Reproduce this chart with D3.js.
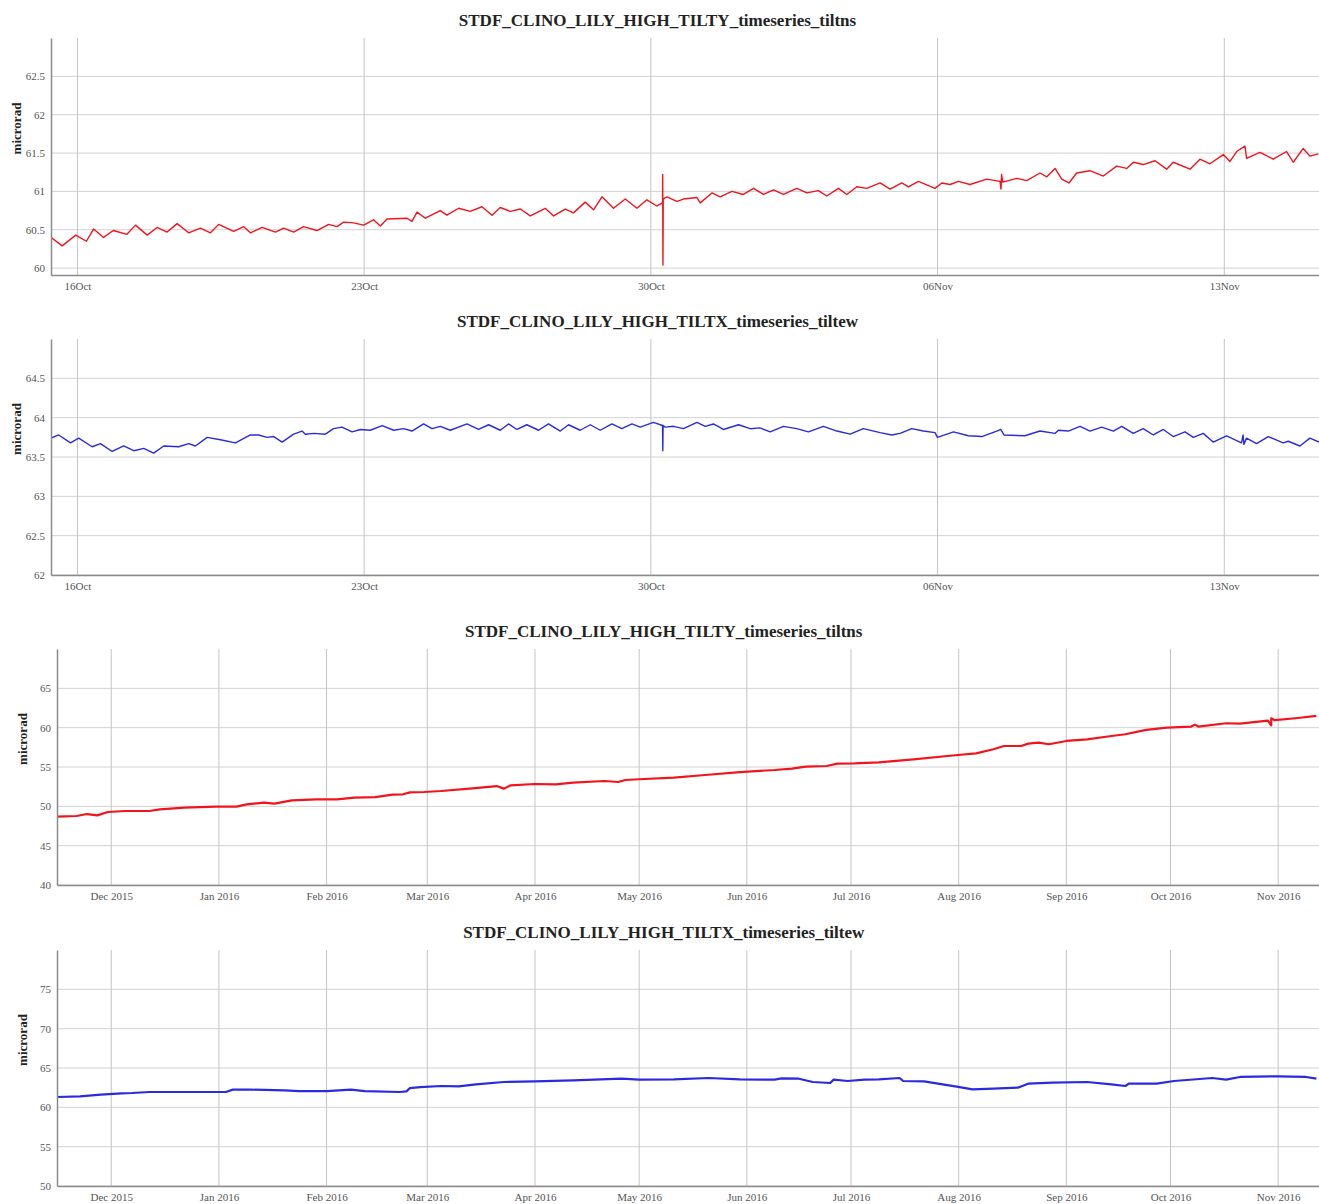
<!DOCTYPE html>
<html lang="en">
<head>
<meta charset="utf-8">
<title>STDF_CLINO_LILY_HIGH tilt timeseries</title>
<script src="https://d3js.org/d3.v7.min.js"></script>
<style>
  body { margin: 0; background: #fff; }
  svg { display: block; font-family: "Liberation Serif", "Times New Roman", serif; }
  .grid line { stroke: #d2d2d2; stroke-width: 1; }
  .grid.v line { stroke: #c4c4c4; }
  .tick text { fill: #555; font-size: 11px; }
  .domain { stroke: #8a8a8a; stroke-width: 1.5; }
  .title { font-size: 17px; font-weight: bold; fill: #222; }
  .ylab { font-size: 13px; font-weight: bold; fill: #222; }
</style>
</head>
<body>
<svg id="chart" width="1319" height="1204"></svg>
<script>
// ---- one month, north-south tilt (red) ----
let tiltnsMonthT = [
  "2016-10-15 08:30","2016-10-15 15:00","2016-10-15 23:00","2016-10-16 05:15","2016-10-16 09:30",
  "2016-10-16 15:15","2016-10-16 21:00","2016-10-17 05:00","2016-10-17 10:00","2016-10-17 16:50",
  "2016-10-17 22:40","2016-10-18 04:30","2016-10-18 10:25","2016-10-18 17:10","2016-10-19 00:00",
  "2016-10-19 05:55","2016-10-19 10:45","2016-10-19 19:30","2016-10-20 01:25","2016-10-20 05:20",
  "2016-10-20 12:10","2016-10-20 20:00","2016-10-21 00:50","2016-10-21 06:40","2016-10-21 12:30",
  "2016-10-21 20:20","2016-10-22 03:10","2016-10-22 08:05","2016-10-22 12:00","2016-10-22 17:50",
  "2016-10-22 23:40","2016-10-23 05:30","2016-10-23 09:30","2016-10-23 13:25","2016-10-24 01:05",
  "2016-10-24 04:00","2016-10-24 07:00","2016-10-24 11:50","2016-10-24 20:35","2016-10-25 00:30",
  "2016-10-25 07:20","2016-10-25 14:10","2016-10-25 21:00","2016-10-26 02:55","2016-10-26 07:45",
  "2016-10-26 13:35","2016-10-26 19:30","2016-10-27 01:20","2016-10-27 10:05","2016-10-27 15:00",
  "2016-10-27 21:50","2016-10-28 02:40","2016-10-28 09:30","2016-10-28 14:25","2016-10-28 19:20",
  "2016-10-29 02:05","2016-10-29 09:00","2016-10-29 15:50","2016-10-29 21:40","2016-10-30 03:30",
  "2016-10-30 06:50","2016-10-30 06:55","2016-10-30 07:05","2016-10-30 07:15","2016-10-30 09:25",
  "2016-10-30 15:15","2016-10-30 19:05","2016-10-31 03:00","2016-10-31 04:55","2016-10-31 11:45",
  "2016-10-31 16:35","2016-10-31 23:30","2016-11-01 06:15","2016-11-01 12:10","2016-11-01 18:00",
  "2016-11-01 23:50","2016-11-02 05:40","2016-11-02 13:30","2016-11-02 19:25","2016-11-03 02:10",
  "2016-11-03 07:05","2016-11-03 13:55","2016-11-03 18:50","2016-11-04 00:40","2016-11-04 06:30",
  "2016-11-04 14:20","2016-11-04 20:10","2016-11-05 03:00","2016-11-05 06:55","2016-11-05 12:45",
  "2016-11-05 22:30","2016-11-06 02:30","2016-11-06 07:20","2016-11-06 12:10","2016-11-06 19:00",
  "2016-11-07 04:50","2016-11-07 12:35","2016-11-07 13:10","2016-11-07 13:30","2016-11-07 14:10",
  "2016-11-07 22:25",
  "2016-11-08 04:15","2016-11-08 12:00","2016-11-08 16:00","2016-11-08 20:50","2016-11-09 00:45",
  "2016-11-09 05:00","2016-11-09 09:30","2016-11-09 17:20","2016-11-10 01:05","2016-11-10 08:55",
  "2016-11-10 14:50","2016-11-10 18:40","2016-11-11 00:30","2016-11-11 07:25","2016-11-11 14:15",
  "2016-11-11 18:05","2016-11-12 03:55","2016-11-12 09:45","2016-11-12 15:35","2016-11-12 23:25",
  "2016-11-13 03:20","2016-11-13 07:15","2016-11-13 12:05","2016-11-13 13:05","2016-11-13 20:55",
  "2016-11-14 04:40","2016-11-14 12:30","2016-11-14 16:25","2016-11-14 22:15","2016-11-15 02:10",
  "2016-11-15 07:05"
];
let tiltnsMonthV = [
  60.40, 60.29, 60.43, 60.35, 60.51, 60.40, 60.49, 60.44, 60.56, 60.43,
  60.53, 60.47, 60.58, 60.46, 60.52, 60.46, 60.57, 60.48, 60.54, 60.46,
  60.53, 60.47, 60.52, 60.47, 60.54, 60.49, 60.57, 60.54, 60.60, 60.59,
  60.56, 60.63, 60.55, 60.64, 60.65, 60.61, 60.73, 60.65, 60.75, 60.69,
  60.78, 60.74, 60.80, 60.69, 60.79, 60.74, 60.77, 60.68, 60.78, 60.68,
  60.77, 60.72, 60.86, 60.76, 60.93, 60.78, 60.90, 60.78, 60.89, 60.81,
  60.85, 61.22, 60.04, 60.90, 60.93, 60.87, 60.90, 60.92, 60.85, 60.98,
  60.93, 61.00, 60.96, 61.04, 60.96, 61.02, 60.96, 61.04, 60.98, 61.01,
  60.94, 61.04, 60.96, 61.06, 61.04, 61.11, 61.03, 61.11, 61.06, 61.13,
  61.04, 61.11, 61.09, 61.13, 61.09, 61.16, 61.13, 61.03, 61.22, 61.12,
  61.17,
  61.14, 61.24, 61.19, 61.30, 61.16, 61.11, 61.24, 61.27, 61.20, 61.33,
  61.30, 61.38, 61.35, 61.40, 61.29, 61.38, 61.29, 61.42, 61.36, 61.48,
  61.39, 61.52, 61.59, 61.43, 61.51, 61.42, 61.52, 61.38, 61.56, 61.46,
  61.49
];

// ---- one month, east-west tilt (blue) ----
let tiltewMonthT = [
  "2016-10-15 08:30","2016-10-15 13:00","2016-10-15 19:55","2016-10-16 00:45","2016-10-16 08:35",
  "2016-10-16 13:30","2016-10-16 20:20","2016-10-17 03:05","2016-10-17 09:00","2016-10-17 14:50",
  "2016-10-17 20:40","2016-10-18 02:35","2016-10-18 11:20","2016-10-18 17:10","2016-10-18 21:05",
  "2016-10-19 04:00","2016-10-19 11:45","2016-10-19 20:35","2016-10-20 05:20","2016-10-20 10:10",
  "2016-10-20 15:05","2016-10-20 19:00","2016-10-20 23:55","2016-10-21 06:40","2016-10-21 11:35",
  "2016-10-21 13:30","2016-10-21 18:25","2016-10-22 01:15","2016-10-22 06:05","2016-10-22 11:00",
  "2016-10-22 16:55","2016-10-22 21:45","2016-10-23 03:35","2016-10-23 10:30","2016-10-23 17:20",
  "2016-10-23 23:10","2016-10-24 04:00","2016-10-24 10:50","2016-10-24 15:45","2016-10-24 20:35",
  "2016-10-25 02:30","2016-10-25 12:15","2016-10-25 19:00","2016-10-26 00:55","2016-10-26 07:45",
  "2016-10-26 12:35","2016-10-26 17:30","2016-10-26 23:20","2016-10-27 06:10","2016-10-27 12:00",
  "2016-10-27 18:55","2016-10-27 23:45","2016-10-28 06:35","2016-10-28 12:30","2016-10-28 18:20",
  "2016-10-29 01:10","2016-10-29 07:00","2016-10-29 12:55","2016-10-29 17:45","2016-10-30 01:30",
  "2016-10-30 06:50","2016-10-30 07:00","2016-10-30 07:10","2016-10-30 08:25","2016-10-30 13:15",
  "2016-10-30 19:05","2016-10-31 03:00","2016-10-31 07:50","2016-10-31 12:40","2016-10-31 18:30",
  "2016-11-01 03:20","2016-11-01 10:10","2016-11-01 16:00","2016-11-01 21:55","2016-11-02 05:40",
  "2016-11-02 13:30","2016-11-02 20:20","2016-11-03 05:05","2016-11-03 13:00","2016-11-03 20:45",
  "2016-11-04 04:30","2016-11-04 14:20","2016-11-04 21:10","2016-11-05 02:00","2016-11-05 08:55",
  "2016-11-05 15:40","2016-11-05 22:30","2016-11-05 23:55","2016-11-06 09:20","2016-11-06 18:00",
  "2016-11-07 01:55","2016-11-07 10:40","2016-11-07 13:00","2016-11-07 14:55","2016-11-08 03:10",
  "2016-11-08 12:00","2016-11-08 20:50","2016-11-08 22:45","2016-11-09 04:35","2016-11-09 11:30",
  "2016-11-09 17:20","2016-11-10 00:10","2016-11-10 07:00","2016-11-10 11:55","2016-11-10 18:40",
  "2016-11-11 00:30","2016-11-11 06:25","2016-11-11 12:15","2016-11-11 18:05","2016-11-12 01:00",
  "2016-11-12 05:50","2016-11-12 11:40","2016-11-12 17:30","2016-11-13 01:20","2016-11-13 10:05",
  "2016-11-13 11:00","2016-11-13 11:30","2016-11-13 13:00","2016-11-13 18:55","2016-11-14 01:45",
  "2016-11-14 10:30","2016-11-14 13:30","2016-11-14 20:20","2016-11-15 02:10","2016-11-15 07:30"
];
let tiltewMonthV = [
  63.74, 63.78, 63.68, 63.74, 63.63, 63.67, 63.57, 63.64, 63.58, 63.61,
  63.55, 63.64, 63.63, 63.67, 63.64, 63.75, 63.72, 63.68, 63.78, 63.78,
  63.75, 63.76, 63.69, 63.79, 63.83, 63.79, 63.80, 63.79, 63.86, 63.88,
  63.82, 63.85, 63.84, 63.90, 63.84, 63.86, 63.83, 63.92, 63.86, 63.89,
  63.84, 63.92, 63.85, 63.91, 63.84, 63.92, 63.85, 63.91, 63.84, 63.92,
  63.83, 63.91, 63.84, 63.91, 63.84, 63.92, 63.86, 63.92, 63.88, 63.94,
  63.90, 63.58, 63.90, 63.88, 63.89, 63.86, 63.94, 63.89, 63.92, 63.85,
  63.91, 63.86, 63.87, 63.82, 63.89, 63.86, 63.82, 63.89, 63.83, 63.79,
  63.86, 63.81, 63.78, 63.80, 63.86, 63.83, 63.81, 63.75, 63.82, 63.77,
  63.76, 63.83, 63.85, 63.78, 63.77, 63.83, 63.80, 63.84, 63.83, 63.89,
  63.83, 63.88, 63.83, 63.89, 63.80, 63.86, 63.78, 63.85, 63.76, 63.82,
  63.75, 63.80, 63.69, 63.77, 63.68, 63.78, 63.66, 63.74, 63.67, 63.76,
  63.68, 63.70, 63.64, 63.74, 63.69
];

// ---- one year, north-south tilt (red) ----
let tiltnsYearT = [
  "2015-11-15","2015-11-21","2015-11-24","2015-11-27","2015-11-30","2015-12-05","2015-12-12",
  "2015-12-15","2015-12-22","2015-12-31","2016-01-06","2016-01-09","2016-01-14","2016-01-17",
  "2016-01-22","2016-01-29","2016-02-04","2016-02-09","2016-02-15","2016-02-20","2016-02-23",
  "2016-02-25","2016-02-29","2016-03-05","2016-03-14","2016-03-21","2016-03-23","2016-03-25",
  "2016-04-01","2016-04-07","2016-04-12","2016-04-21","2016-04-25","2016-04-27","2016-05-01",
  "2016-05-11","2016-05-20","2016-05-30","2016-06-09","2016-06-14","2016-06-18","2016-06-24",
  "2016-06-27","2016-07-02","2016-07-09","2016-07-19","2016-07-31","2016-08-06","2016-08-11",
  "2016-08-14","2016-08-19","2016-08-21","2016-08-24","2016-08-27","2016-09-01","2016-09-07",
  "2016-09-14","2016-09-18","2016-09-24","2016-09-30","2016-10-07","2016-10-08","2016-10-09",
  "2016-10-17","2016-10-21","2016-10-29","2016-10-30","2016-10-30","2016-10-31","2016-11-06",
  "2016-11-12"
];
let tiltnsYearV = [
  48.69, 48.77, 49.02, 48.85, 49.28, 49.41, 49.41, 49.62, 49.83, 49.96,
  49.96, 50.25, 50.47, 50.34, 50.76, 50.89, 50.89, 51.11, 51.18, 51.49,
  51.53, 51.78, 51.82, 51.95, 52.29, 52.58, 52.25, 52.67, 52.84, 52.80,
  53.01, 53.22, 53.09, 53.35, 53.44, 53.65, 53.98, 54.36, 54.62, 54.80,
  55.05, 55.13, 55.43, 55.47, 55.60, 55.98, 56.49, 56.74, 57.25, 57.67,
  57.67, 57.97, 58.10, 57.89, 58.31, 58.52, 58.94, 59.16, 59.71, 60.01,
  60.14, 60.39, 60.14, 60.56, 60.52, 60.90, 60.30, 61.20, 60.95, 61.20,
  61.49
];

// ---- one year, east-west tilt (blue) ----
let tiltewYearT = [
  "2015-11-15","2015-11-22","2015-11-28","2015-12-04","2015-12-07","2015-12-12","2015-12-27",
  "2016-01-03","2016-01-05","2016-01-10","2016-01-20","2016-01-24","2016-02-01","2016-02-08",
  "2016-02-12","2016-02-22","2016-02-24","2016-02-25","2016-02-28","2016-03-05","2016-03-10",
  "2016-03-15","2016-03-23","2016-04-01","2016-04-12","2016-04-26","2016-05-01","2016-05-11",
  "2016-05-21","2016-05-30","2016-06-09","2016-06-11","2016-06-16","2016-06-20","2016-06-25",
  "2016-06-26","2016-06-30","2016-07-05","2016-07-09","2016-07-15","2016-07-16","2016-07-22",
  "2016-07-31","2016-08-05","2016-08-11","2016-08-18","2016-08-21","2016-08-28","2016-09-07",
  "2016-09-14","2016-09-18","2016-09-19","2016-09-27","2016-10-02","2016-10-13","2016-10-17",
  "2016-10-21","2016-11-01","2016-11-09","2016-11-12"
];
let tiltewYearV = [
  61.31, 61.40, 61.61, 61.78, 61.82, 61.95, 61.95, 61.95, 62.25, 62.25,
  62.16, 62.07, 62.07, 62.25, 62.07, 61.95, 62.03, 62.45, 62.58, 62.71,
  62.67, 62.92, 63.22, 63.30, 63.43, 63.64, 63.52, 63.56, 63.73, 63.56,
  63.52, 63.69, 63.64, 63.22, 63.09, 63.52, 63.35, 63.52, 63.56, 63.73,
  63.35, 63.30, 62.67, 62.29, 62.37, 62.50, 63.01, 63.14, 63.22, 62.92,
  62.71, 63.01, 63.01, 63.35, 63.73, 63.52, 63.86, 63.94, 63.86, 63.64
];

// y tick labels of each panel
let tiltnsMonthTicks = [60, 60.5, 61, 61.5, 62, 62.5];
let tiltewMonthTicks = [62, 62.5, 63, 63.5, 64, 64.5];
let tiltnsYearTicks = [40, 45, 50, 55, 60, 65];
let tiltewYearTicks = [50, 55, 60, 65, 70, 75];

let titleNS = "STDF_CLINO_LILY_HIGH_TILTY_timeseries_tiltns",
  titleEW = "STDF_CLINO_LILY_HIGH_TILTX_timeseries_tiltew";

const parseHour = d3.timeParse("%Y-%m-%d %H:%M"),
  parseDay = d3.timeParse("%Y-%m-%d");

const width = 1319;
const svg = d3.select("#chart");

const monthRange = [parseHour("2016-10-15 08:30"), parseHour("2016-11-15 07:30")],
  yearRange = [parseHour("2015-11-15 09:00"), parseHour("2016-11-12 18:00")];

function drawPanel(p, i) {
  let x = d3.scaleTime().domain(p.xDomain).range([p.left, width]),
    y = d3.scaleLinear().domain(p.yDomain).range([p.bottom, p.top]);
  let xTicks = x.ticks(p.every);
  let g = svg.append("g");

  g.append("g").attr("class", "grid")
    .selectAll("line").data(p.yTicks).join("line")
    .attr("x1", p.left).attr("x2", width)
    .attr("y1", d => y(d)).attr("y2", d => y(d));

  g.append("g").attr("class", "grid v")
    .selectAll("line").data(xTicks).join("line")
    .attr("x1", d => x(d)).attr("x2", d => x(d))
    .attr("y1", p.top).attr("y2", p.bottom);

  g.append("clipPath").attr("id", "clip" + i)
    .append("rect")
    .attr("x", p.left).attr("y", p.top)
    .attr("width", width - p.left).attr("height", p.bottom - p.top);

  let data = p.times.map((t, j) => ({ t: p.parse(t), v: p.values[j] }));
  let line = d3.line().x(d => x(d.t)).y(d => y(d.v));

  g.append("path")
    .datum(data)
    .attr("clip-path", `url(#clip${i})`)
    .attr("d", line)
    .attr("fill", "none")
    .attr("stroke", p.color)
    .attr("stroke-width", p.strokeWidth)
    .attr("stroke-linejoin", "round");

  g.append("g")
    .attr("transform", `translate(0,${p.bottom})`)
    .call(d3.axisBottom(x).tickValues(xTicks).tickFormat(d3.timeFormat(p.fmt))
      .tickSize(0).tickPadding(7))
    .attr("font-family", null);

  g.append("g")
    .attr("transform", `translate(${p.left},0)`)
    .call(d3.axisLeft(y).tickValues(p.yTicks).tickFormat(d => String(d))
      .tickSize(0).tickPadding(6))
    .attr("font-family", null);

  g.append("text")
    .attr("class", "title")
    .attr("x", p.titleX).attr("y", p.top - 12)
    .attr("text-anchor", "middle")
    .text(p.title);

  g.append("text")
    .attr("class", "ylab")
    .attr("transform", `translate(${p.labelX},${(p.top + p.bottom) / 2 - 28}) rotate(-90)`)
    .attr("text-anchor", "middle")
    .text("microrad");
}

let panels = [
  { title: titleNS, titleX: 657.5, top: 38, bottom: 275, left: 51, labelX: 21,
    xDomain: monthRange, yDomain: [59.91, 63.0], yTicks: tiltnsMonthTicks,
    every: d3.timeWeek.every(1), fmt: "%d%b", parse: parseHour,
    times: tiltnsMonthT, values: tiltnsMonthV, color: "#f2141c", strokeWidth: 1.4 },
  { title: titleEW, titleX: 657.5, top: 339, bottom: 575, left: 51, labelX: 21,
    xDomain: monthRange, yDomain: [62, 65.0], yTicks: tiltewMonthTicks,
    every: d3.timeWeek.every(1), fmt: "%d%b", parse: parseHour,
    times: tiltewMonthT, values: tiltewMonthV, color: "#2a2ae0", strokeWidth: 1.4 },
  { title: titleNS, titleX: 663.7, top: 649, bottom: 885, left: 57, labelX: 27,
    xDomain: yearRange, yDomain: [40, 70], yTicks: tiltnsYearTicks,
    every: d3.timeMonth.every(1), fmt: "%b %Y", parse: parseDay,
    times: tiltnsYearT, values: tiltnsYearV, color: "#f2141c", strokeWidth: 2.2 },
  { title: titleEW, titleX: 663.7, top: 950, bottom: 1186, left: 57, labelX: 27,
    xDomain: yearRange, yDomain: [50, 80], yTicks: tiltewYearTicks,
    every: d3.timeMonth.every(1), fmt: "%b %Y", parse: parseDay,
    times: tiltewYearT, values: tiltewYearV, color: "#2a2ae0", strokeWidth: 2.2 }
];

panels.forEach(drawPanel);
</script>
</body>
</html>
